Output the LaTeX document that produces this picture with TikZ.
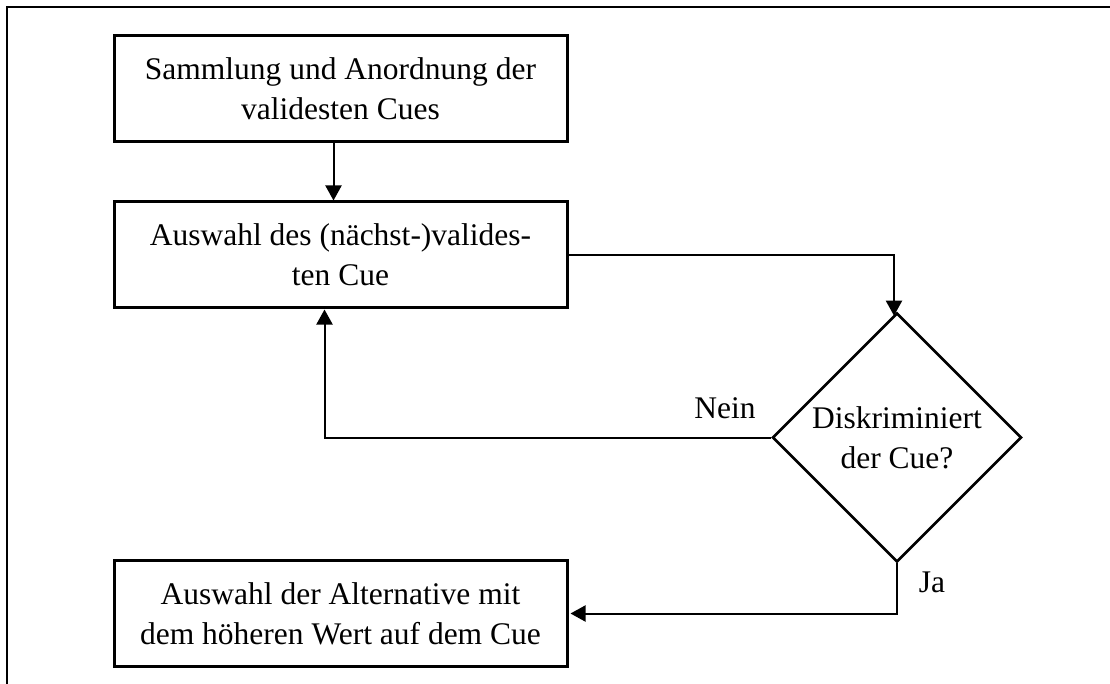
\documentclass[tikz,border=0pt]{standalone}
\usepackage{fontspec}
\setmainfont{Liberation Serif}
\usetikzlibrary{arrows.meta,shapes.geometric}
\begin{document}
\begin{tikzpicture}[x=1pt,y=-1pt,
  every node/.style={font=\fontsize{31.5}{40}\selectfont},
  stepbox/.style={draw,line width=3pt,minimum width=453pt,minimum height=106pt,
    inner sep=0pt,align=center},
  decision/.style={draw,diamond,aspect=1,line width=2.6pt,minimum width=249pt,
    minimum height=249pt,inner sep=0pt,align=center},
  arr/.style={line width=2pt,-{Triangle[length=15pt,width=16pt]}},
  lbl/.style={inner sep=0pt}]
  \useasboundingbox (0,0) rectangle (1110,684);
  % open frame
  \draw[line width=2pt] (7,690) -- (7,7) -- (1115,7);
  % nodes
  \node[stepbox] (b1) at (340.5,88.5) {Sammlung und Anordnung der\\validesten Cues};
  \node[stepbox] (b2) at (340.5,255) {Auswahl des (nächst-)valides-\\ten Cue};
  \node[decision] (d) at (897,437.5) {Diskriminiert\\der Cue?};
  \node[stepbox] (b3) at (340.5,613.5) {Auswahl der Alternative mit\\dem höheren Wert auf dem Cue};
  % connectors
  \draw[arr] ([xshift=-7pt]b1.south) -- ([xshift=-7pt]b2.north);
  \draw[arr] (b2.east) -| ([xshift=-3pt,yshift=-4pt]d.north);
  \draw[arr] (d.west) -| ([xshift=-16pt]b2.south);
  \draw[arr] (d.south) |- ([xshift=2pt]b3.east);
  % labels
  \node[lbl] (nein) at (725,408) {Nein};
  \node[lbl] (ja) at (932,582) {Ja};
\end{tikzpicture}
\end{document}
